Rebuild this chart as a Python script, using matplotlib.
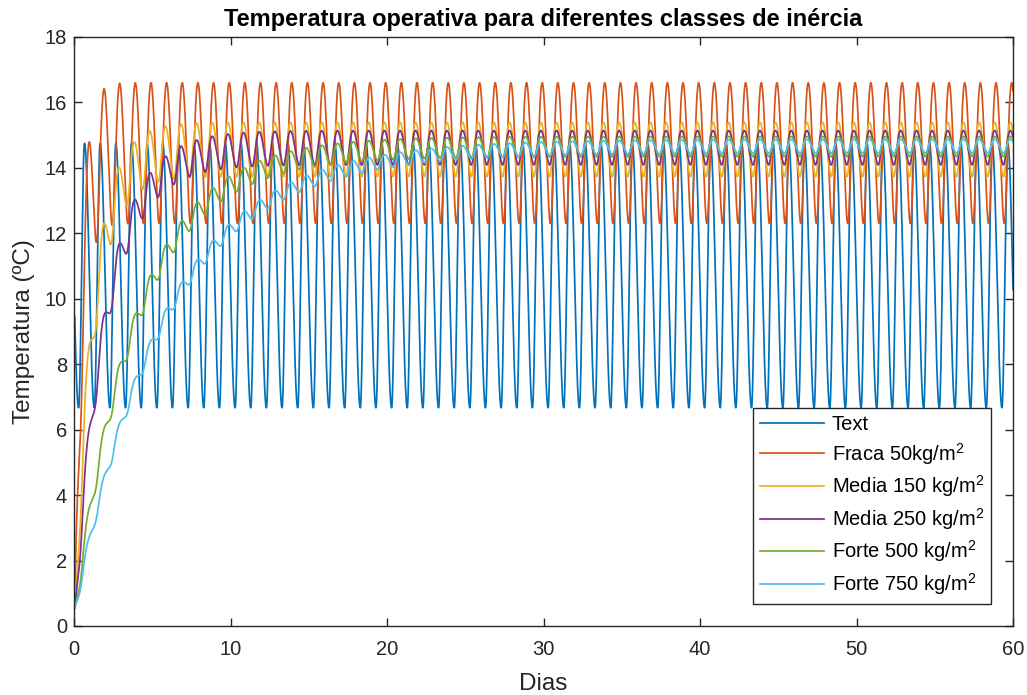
import numpy as np
import matplotlib.pyplot as plt

plt.rcParams['font.family'] = ['Liberation Sans', 'DejaVu Sans']
plt.rcParams['mathtext.fontset'] = 'custom'
plt.rcParams['mathtext.rm'] = 'Liberation Sans'
plt.rcParams['mathtext.it'] = 'Liberation Sans:italic'

# outdoor temperature: daily min/max and the hours they occur
N_DAYS = 60
TEXT_MIN = 6.67
TEXT_MAX = 14.75
HOUR_MIN = 7.0
HOUR_MAX = 16.0
T_START = 0.55          # initial operative temperature of every class

# inertia classes
labels = ['Fraca 50kg/m$^2$', 'Media 150 kg/m$^2$', 'Media 250 kg/m$^2$',
          'Forte 500 kg/m$^2$', 'Forte 750 kg/m$^2$']
tau_days = [0.42, 1.2, 2.0, 4.0, 5.8]        # time constant of the mass (days)
slow_gain = [1.0, 0.6, 0.6, 0.8, 0.8]        # share of Text going through the mass
fast_gain = [0.0, 0.17, 0.12, 0.065, 0.045]  # share reaching the air directly
steady_max = [16.60, 15.39, 15.14, 14.96, 14.87]
steady_min = [12.30, 13.73, 14.09, 14.34, 14.45]

colors = ['#0072BD', '#D95319', '#EDB120', '#7E2F8E', '#77AC30', '#4DBEEE']

STEP = 1 / 240
TAU_FAST = 0.08
t = np.arange(1 / 24, N_DAYS + STEP / 2, STEP)


def text_profile(t):
    mid = (TEXT_MAX + TEXT_MIN) / 2
    amp = (TEXT_MAX - TEXT_MIN) / 2
    rise = HOUR_MAX - HOUR_MIN
    h = (t * 24 - HOUR_MIN) % 24
    return np.where(h < rise,
                    mid - amp * np.cos(np.pi * h / rise),
                    mid + amp * np.cos(np.pi * (h - rise) / (24 - rise)))


def lowpass(x, tau, y0):
    a = np.exp(-STEP / tau)
    y = np.empty_like(x)
    y[0] = y0
    for i in range(1, len(x)):
        y[i] = x[i - 1] + (y[i - 1] - x[i - 1]) * a
    return y


text = text_profile(t)
osc = text - (TEXT_MAX + TEXT_MIN) / 2
z_fast = lowpass(osc, TAU_FAST, 0.0)

series = []
for tau, g, c, hi, lo in zip(tau_days, slow_gain, fast_gain, steady_max, steady_min):
    shape = g * lowpass(osc, tau, 0.0) + c * z_fast
    last = shape[t > N_DAYS - 1]
    lam = (hi - lo) / (last.max() - last.min())
    m = (hi + lo) / 2 - lam * (last.max() + last.min()) / 2
    slow = m + (T_START - m) * np.exp(-(t - t[0]) / tau)
    series.append(slow + lam * shape)

fig = plt.figure(figsize=(10.27, 6.95), dpi=100)
ax = fig.add_axes([0.0721, 0.0993, 0.9143, 0.8475])

ax.plot(t, text, color=colors[0], lw=1.25, label='Text')
for y, lab, col in zip(series, labels, colors[1:]):
    ax.plot(t, y, color=col, lw=1.25, label=lab)

ax.set_xlim(0, 60)
ax.set_ylim(0, 18)
ax.set_xticks(np.arange(0, 61, 10))
ax.set_yticks(np.arange(0, 19, 2))
ax.tick_params(direction='in', length=6, width=1, labelsize=14.5, colors='#262626',
               top=True, right=True)
ax.tick_params(axis='x', pad=10)
ax.tick_params(axis='y', pad=5)
for s in ax.spines.values():
    s.set_color('#262626')
    s.set_linewidth(1.0)

ax.set_title('Temperatura operativa para diferentes classes de inércia',
             fontsize=17, fontweight='bold', pad=8)
ax.set_xlabel('Dias', fontsize=17.5, color='#262626', labelpad=10)
ax.set_ylabel('Temperatura (ºC)', fontsize=17.5, color='#262626', labelpad=7)

leg = ax.legend(loc='lower right', bbox_to_anchor=(0.9766, 0.0374), borderaxespad=0,
                fontsize=14.5, fancybox=False, framealpha=1, edgecolor='#262626',
                handlelength=3.2, handletextpad=0.35, borderpad=0.35,
                labelspacing=0.33)
leg.get_frame().set_linewidth(1.0)

fig.savefig('out.png', dpi=100)
